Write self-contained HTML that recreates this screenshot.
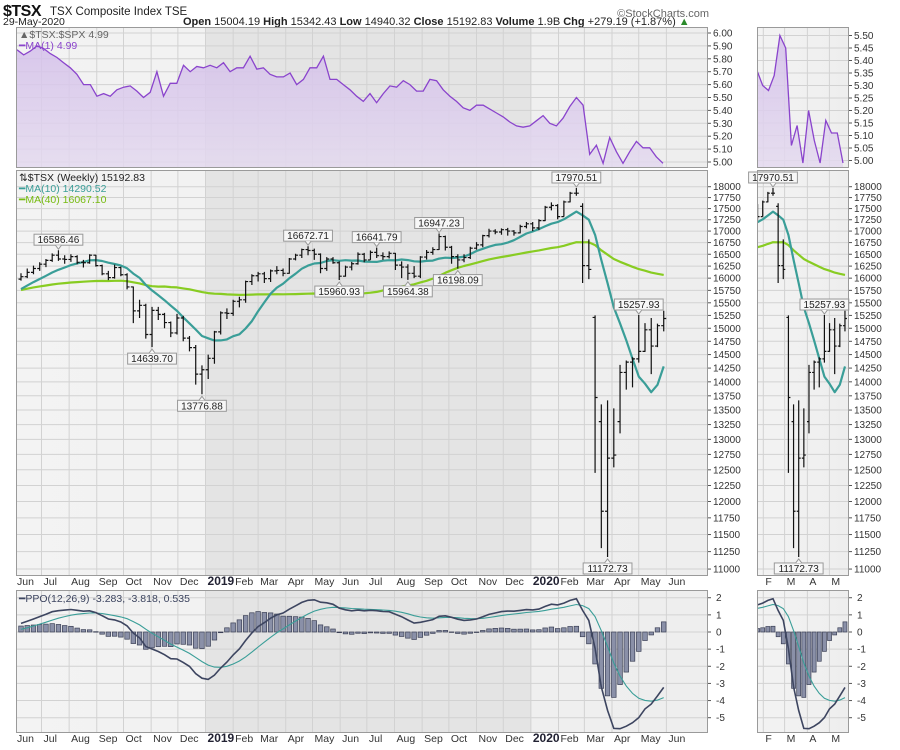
<!DOCTYPE html>
<html><head><meta charset="utf-8"><title>$TSX TSX Composite Index</title>
<style>
html,body{margin:0;padding:0;background:#fff;}
svg{display:block;font-family:"Liberation Sans",sans-serif;}
</style></head>
<body>
<svg id="chart" width="900" height="750" viewBox="0 0 900 750" xmlns="http://www.w3.org/2000/svg">
<rect x="0" y="0" width="900" height="750" fill="#ffffff"/>
<text x="3" y="16" font-size="16" font-weight="bold" fill="#111" style="letter-spacing:-0.5px">$TSX</text>
<text x="50" y="15" font-size="11.5" fill="#222">TSX Composite Index  TSE</text>
<text x="709" y="17" font-size="11" fill="#666" text-anchor="end">©StockCharts.com</text>
<text x="3" y="25" font-size="10.5" fill="#222">29-May-2020</text>
<text x="183" y="25" font-size="11" fill="#222"><tspan font-weight="bold">Open</tspan> 15004.19  <tspan font-weight="bold">High</tspan> 15342.43  <tspan font-weight="bold">Low</tspan> 14940.32  <tspan font-weight="bold">Close</tspan> 15192.83  <tspan font-weight="bold">Volume</tspan> 1.9B  <tspan font-weight="bold">Chg</tspan> +279.19 (+1.87%) <tspan fill="#2a8a2a">▲</tspan></text>
<g id="layers"></g>
</svg>
<script>
// ---------- DATA ----------
const priorCloses = [15050,15150,15450,15630,15700,15770,15840,15960,16010,16030,16110,16040,16020,16050,16100,16000,16200,16220,16350,16320,16240,15610,15030,15330,15500,15600,15400,15220,15370,15240,15400,15500,15650,15700,15800,15850,15900,15950,15980];
const opens = [15980,16030,16120,16200,16290,16370,16480,16400,16390,16450,16330,16320,16480,16260,16090,16010,16220,16070,15820,15340,15450,14880,15350,15270,15110,14910,15200,14810,14630,14140,14220,14430,14930,15300,15290,15530,15560,15930,16050,16090,15990,16150,16160,16100,16400,16480,16600,16580,16500,16200,16400,16320,16040,16230,16300,16500,16380,16540,16470,16450,16520,16270,16230,16100,16040,16440,16540,16600,16880,16650,16450,16380,16430,16630,16700,16900,17000,16980,17030,17000,16960,17100,17160,17070,17230,17530,17570,17320,17650,17850,17550,16260,15210,13300,11850,12690,13300,14170,14360,14420,14560,14970,14660,15050];
const highs = [16100,16200,16260,16330,16400,16520,16586,16480,16500,16480,16380,16500,16490,16280,16150,16280,16240,16100,15830,15560,15480,15420,15420,15300,15130,15280,15240,14850,14680,14300,14500,14950,15330,15390,15560,15620,15950,16080,16130,16130,16180,16250,16200,16420,16510,16620,16672,16620,16520,16440,16440,16350,16260,16340,16540,16530,16580,16641,16540,16560,16530,16350,16290,16250,16460,16590,16650,16947,16900,16680,16500,16500,16660,16760,16920,17050,17040,17060,17070,17020,17140,17200,17200,17260,17560,17640,17600,17680,17880,17970,17620,16820,15250,13600,13670,13530,14310,14390,14450,15258,15100,15200,15090,15342];
const lows = [15950,16000,16080,16150,16230,16340,16360,16300,16340,16290,16220,16300,16240,16060,15960,15990,16040,15770,15100,15200,14800,14640,15160,15000,14830,14880,14750,14560,13950,13777,14050,14330,14880,15180,15240,15410,15500,15860,15930,15900,15920,16080,16040,16090,16370,16420,16480,16380,16100,16150,16300,15961,16030,16160,16280,16330,16380,16420,16380,16410,16170,16000,15964,16000,16000,16390,16490,16590,16580,16300,16198,16330,16400,16600,16650,16860,16930,16920,16900,16900,16950,17060,17000,17020,17220,17460,17260,17320,17640,17790,15900,15980,12450,11300,11172,12540,13100,13860,13900,14350,14550,14140,14640,14940];
const closes = [16030,16120,16200,16290,16370,16480,16400,16390,16450,16330,16320,16480,16260,16090,16010,16220,16070,15820,15340,15450,14880,15350,15270,15110,14910,15200,14810,14630,14140,14220,14430,14930,15300,15290,15530,15560,15930,16050,16090,15990,16150,16160,16100,16400,16480,16600,16580,16500,16200,16400,16320,16040,16230,16300,16500,16380,16540,16470,16450,16520,16270,16230,16100,16040,16440,16540,16600,16880,16650,16450,16380,16430,16630,16700,16900,17000,16980,17030,17000,16960,17100,17160,17070,17230,17530,17570,17320,17650,17850,17850,16260,16180,13720,11850,12690,12740,14170,14360,14420,14560,14970,14660,15050,15190];
const ratioValues = [5.87,5.83,5.86,5.90,5.88,5.84,5.81,5.77,5.73,5.68,5.60,5.60,5.51,5.53,5.51,5.56,5.58,5.59,5.55,5.50,5.54,5.70,5.51,5.61,5.61,5.75,5.70,5.74,5.73,5.75,5.73,5.77,5.70,5.73,5.73,5.82,5.72,5.73,5.68,5.66,5.66,5.69,5.60,5.64,5.73,5.73,5.82,5.64,5.64,5.60,5.56,5.51,5.47,5.53,5.46,5.53,5.59,5.58,5.63,5.60,5.55,5.55,5.64,5.63,5.56,5.51,5.47,5.42,5.40,5.44,5.44,5.41,5.38,5.35,5.31,5.28,5.27,5.28,5.32,5.36,5.30,5.28,5.34,5.43,5.50,5.44,5.06,5.13,4.99,5.19,5.08,4.99,5.08,5.16,5.11,5.11,5.04,4.99];
const miniRatioValues = [5.36,5.30,5.28,5.34,5.50,5.45,5.06,5.14,4.99,5.20,5.08,4.99,5.16,5.11,5.11,4.99];
const monthLabels = ["Jun","Jul","Aug","Sep","Oct","Nov","Dec","2019","Feb","Mar","Apr","May","Jun","Jul","Aug","Sep","Oct","Nov","Dec","2020","Feb","Mar","Apr","May","Jun"];
const monthDays = [-7,23,54,85,115,146,176,207,238,266,297,327,358,388,419,450,480,511,541,572,603,632,663,693,724];
const miniMonthLabels = ["F","M","A","M"];
const miniMonthDays = [603,632,663,693];
const priceTicks = [18000,17750,17500,17250,17000,16750,16500,16250,16000,15750,15500,15250,15000,14750,14500,14250,14000,13750,13500,13250,13000,12750,12500,12250,12000,11750,11500,11250,11000];
const ratioTicks = [6.00,5.90,5.80,5.70,5.60,5.50,5.40,5.30,5.20,5.10,5.00];
const miniRatioTicks = [5.50,5.45,5.40,5.35,5.30,5.25,5.20,5.15,5.10,5.05,5.00];
const ppoTicks = [2,1,0,-1,-2,-3,-4,-5];
const annIdx = [6,21,29,46,51,57,62,67,70,89,99,94];
const annVal = [16586.46,14639.70,13776.88,16672.71,15960.93,16641.79,15964.38,16947.23,16198.09,17970.51,15257.93,11172.73];
const annSide = ["a","b","b","a","b","a","b","a","b","a","a","b"];
const miniAnnIdx = [89,99,94];
const miniAnnVal = [17970.51,15257.93,11172.73];
const miniAnnSide = ["a","a","b"];
const miniStart = 86;

// ---------- GEOMETRY ----------
const NS = 'http://www.w3.org/2000/svg';
const root = document.getElementById('layers');
function mk(tag, attrs, parent){
  const e = document.createElementNS(NS, tag);
  for (const k in attrs) e.setAttribute(k, attrs[k]);
  (parent || root).appendChild(e);
  return e;
}
const L = {x0:16, x1:708}, M = {x0:757, x1:849};
const P1 = {y0:27, y1:168}, P2 = {y0:170, y1:576}, P3 = {y0:590, y1:733};
const xW = i => 21 + 6.24 * i;
const xD = d => 21 + 0.8914 * d;
const xMini = i => 773 + (i - 89) * 5.14;
const xMiniD = d => xMini(d / 7) + 5;
const yPrice = v => 186.7 + 776.4 * Math.log(18000 / v);
const yRatio = v => 33 + (6.0 - v) * 129;
const yMiniRatio = v => 35.5 + (5.5 - v) * 250;
const yPPO = v => 632 - v * 17.14;

const defs = mk('defs', {});
function clip(id, x0, y0, x1, y1){
  const c = mk('clipPath', {id:id}, defs);
  mk('rect', {x:x0, y:y0, width:x1-x0, height:y1-y0}, c);
}
clip('c1', L.x0, P1.y0, L.x1, P1.y1); clip('c2', L.x0, P2.y0, L.x1, P2.y1); clip('c3', L.x0, P3.y0, L.x1, P3.y1);
clip('m1', M.x0, P1.y0, M.x1, P1.y1); clip('m2', M.x0, P2.y0, M.x1, P2.y1); clip('m3', M.x0, P3.y0, M.x1, P3.y1);
const grad = mk('linearGradient', {id:'bgGrad', x1:0, y1:0, x2:1, y2:0}, defs);
mk('stop', {offset:'0', 'stop-color':'#f3f3f3'}, grad);
mk('stop', {offset:'1', 'stop-color':'#eeeeee'}, grad);
const fillGrad = mk('linearGradient', {id:'ratioFill', x1:0, y1:0, x2:0, y2:1}, defs);
mk('stop', {offset:'0', 'stop-color':'#d4c0ea'}, fillGrad);
mk('stop', {offset:'1', 'stop-color':'#e4daef'}, fillGrad);

function panelBg(name, x0, y0, x1, y1, shade){
  const g = mk('g', {});
  
  
  mk('rect', {x:x0, y:y0, width:x1-x0, height:y1-y0, fill:'url(#bgGrad)'}, g);
  if (shade){
    const s = mk('rect', {x:xD(monthDays[7]), y:y0, width:xD(monthDays[19]) - xD(monthDays[7]), height:y1-y0, fill:'#e4e4e4'}, g);
    
    
  }
  return g;
}
panelBg('ratio-panel', L.x0, P1.y0, L.x1, P1.y1, true);
panelBg('price-panel', L.x0, P2.y0, L.x1, P2.y1, true);
panelBg('ppo-panel', L.x0, P3.y0, L.x1, P3.y1, true);
panelBg('mini-ratio-panel', M.x0, P1.y0, M.x1, P1.y1, false);
panelBg('mini-price-panel', M.x0, P2.y0, M.x1, P2.y1, false);
panelBg('mini-ppo-panel', M.x0, P3.y0, M.x1, P3.y1, false);

function hGrid(name, ticks, yf, x0, x1, y0, y1, fmt, lx){
  const g = mk('g', {});
  
  
  ticks.forEach(t => {
    const y = yf(t);
    if (y < y0 - 0.5 || y > y1 + 0.5) return;
    mk('line', {x1:x0, x2:x1, y1:y, y2:y, stroke:'#d2d2d2', 'stroke-width':1}, g);
    mk('line', {x1:x1, x2:x1+3, y1:y, y2:y, stroke:'#555', 'stroke-width':1}, g);
    const tx = mk('text', {x:lx, y:y+3.5, 'font-size':10, fill:'#333'}, g);
    tx.textContent = fmt(t);
  });
}
hGrid('ratio-y-axis', ratioTicks, yRatio, L.x0, L.x1, P1.y0, P1.y1, v => v.toFixed(2), 713);
hGrid('price-y-axis', priceTicks, yPrice, L.x0, L.x1, P2.y0, P2.y1, v => String(v), 713);
hGrid('ppo-y-axis', ppoTicks, yPPO, L.x0, L.x1, P3.y0, P3.y1, v => String(v), 716);
hGrid('mini-ratio-y-axis', miniRatioTicks, yMiniRatio, M.x0, M.x1, P1.y0, P1.y1, v => v.toFixed(2), 854);
hGrid('mini-price-y-axis', priceTicks, yPrice, M.x0, M.x1, P2.y0, P2.y1, v => String(v), 854);
hGrid('mini-ppo-y-axis', ppoTicks, yPPO, M.x0, M.x1, P3.y0, P3.y1, v => String(v), 857);

function vGrid(name, days, labels, xf, x0, x1){
  const g = mk('g', {});
  
  
  days.forEach((d, k) => {
    const x = xf(d);
    if (x > x0 && x < x1){
      [P1, P2, P3].forEach(p => mk('line', {x1:x, x2:x, y1:p.y0, y2:p.y1, stroke:'#d2d2d2', 'stroke-width':1}, g));
    }
    const lxp = Math.max(x + 2, x0 + 1);
    if (lxp > x1 - 8) return;
    const bold = /^\d{4}$/.test(labels[k]);
    [585, 742].forEach(ly => {
      const t = mk('text', {x:lxp, y:ly, 'font-size': bold ? 12 : 10.5, 'font-weight': bold ? 'bold' : 'normal', fill: bold ? '#223' : '#333'}, g);
      t.textContent = labels[k];
    });
  });
}
vGrid('month-axis', monthDays, monthLabels, xD, L.x0, L.x1);
vGrid('mini-month-axis', miniMonthDays, miniMonthLabels, xMiniD, M.x0, M.x1);

// ---------- INDICATORS ----------
const full = priorCloses.concat(closes);
const off = priorCloses.length;
function sma(n, k){ let s = 0; for (let j = k - n + 1; j <= k; j++) s += full[j]; return s / n; }
const ma10 = closes.map((c, i) => sma(10, i + off));
const ma40 = closes.map((c, i) => sma(Math.min(40, i + off + 1), i + off));
function ema(arr, n){ const a = 2 / (n + 1); const out = []; let e = arr[0]; arr.forEach(v => { e = v * a + e * (1 - a); out.push(e); }); return out; }
const e12 = ema(full, 12), e26 = ema(full, 26);
const ppoFull = full.map((v, k) => (e12[k] - e26[k]) / e26[k] * 100);
const sigFull = ema(ppoFull, 9);
const ppo = ppoFull.slice(off), sig = sigFull.slice(off);
const hist = ppo.map((v, i) => v - sig[i]);

// ---------- RATIO PANELS ----------
function ratioArea(name, vals, x0, x1, yf, clipId, yb){
  const g = mk('g', {'clip-path':'url(#' + clipId + ')'});
  
  
  const step = (x1 - x0) / (vals.length - 1);
  const pts = vals.map((v, k) => [x0 + k * step, yf(v)]);
  const d = 'M' + pts.map(p => p[0].toFixed(1) + ',' + p[1].toFixed(1)).join(' L');
  const area = mk('path', {d: d + ' L' + x1 + ',' + yb + ' L' + x0 + ',' + yb + ' Z', fill:'url(#ratioFill)', 'fill-opacity':0.85}, g);
  
  
  const line = mk('path', {d:d, fill:'none', stroke:'#8a44cc', 'stroke-width':1.3}, g);
  
  
}
ratioArea('tsx-spx-ratio', ratioValues, 17, 663, yRatio, 'c1', 168);
ratioArea('mini-tsx-spx-ratio', miniRatioValues, 757, 843, yMiniRatio, 'm1', 168);

// ---------- PRICE PANELS ----------
function lineFrom(name, vals, idxs, xf, yf, color, w, clipId){
  const d = 'M' + idxs.map(i => xf(i).toFixed(1) + ',' + yf(vals[i]).toFixed(1)).join(' L');
  const p = mk('path', {d:d, fill:'none', stroke:color, 'stroke-width':w, 'clip-path':'url(#' + clipId + ')', 'stroke-linejoin':'round'});
  
  
}
const allIdx = closes.map((c, i) => i);
const miniIdx = allIdx.filter(i => i >= miniStart);
lineFrom('ma40-line', ma40, allIdx, xW, yPrice, '#88cc22', 2.2, 'c2');
lineFrom('ma10-line', ma10, allIdx, xW, yPrice, '#3a9e98', 2.2, 'c2');
lineFrom('mini-ma40-line', ma40, miniIdx, xMini, yPrice, '#88cc22', 2.2, 'm2');
lineFrom('mini-ma10-line', ma10, miniIdx, xMini, yPrice, '#3a9e98', 2.2, 'm2');

function bars(name, idxs, xf, clipId, tick){
  const g = mk('g', {'clip-path':'url(#' + clipId + ')', stroke:'#111', 'stroke-width':1.2});
  
  
  idxs.forEach(i => {
    const x = xf(i);
    const b = mk('path', {d:'M' + x + ',' + yPrice(highs[i]) + ' V' + yPrice(lows[i]) +
      ' M' + (x - tick) + ',' + yPrice(opens[i]) + ' H' + x +
      ' M' + x + ',' + yPrice(closes[i]) + ' H' + (x + tick), fill:'none'}, g);
    
    
  });
}
bars('price-bars', allIdx, xW, 'c2', 2.5);
bars('mini-price-bars', miniIdx, xMini, 'm2', 2);

function annotate(name, idxs, vals, sides, xf, y0, y1){
  const g = mk('g', {});
  
  
  idxs.forEach((i, k) => {
    const x = xf(i), yv = yPrice(vals[k]);
    const txt = vals[k].toFixed(2);
    const w = txt.length * 5.6 + 4, h = 11;
    let by = sides[k] === 'a' ? yv - 5 - h : yv + 6;
    by = Math.min(Math.max(by, y0 + 2), y1 - h - 2);
    const bx = x - w / 2;
    const box = mk('g', {}, g);
    
    
    mk('rect', {x:bx, y:by, width:w, height:h, fill:'#f7f7f7', stroke:'#999', 'stroke-width':1}, box);
    if (sides[k] === 'a') mk('path', {d:'M' + (x - 3) + ',' + (by + h) + ' L' + x + ',' + (by + h + 4) + ' L' + (x + 3) + ',' + (by + h), fill:'#f7f7f7', stroke:'#999'}, box);
    else mk('path', {d:'M' + (x - 3) + ',' + by + ' L' + x + ',' + (by - 4) + ' L' + (x + 3) + ',' + by, fill:'#f7f7f7', stroke:'#999'}, box);
    const t = mk('text', {x:x, y:by + 9, 'font-size':10, 'text-anchor':'middle', fill:'#222'}, box);
    t.textContent = txt;
  });
}
annotate('price-annotations', annIdx, annVal, annSide, xW, P2.y0, P2.y1);
annotate('mini-price-annotations', miniAnnIdx, miniAnnVal, miniAnnSide, xMini, P2.y0, P2.y1);

// ---------- PPO PANELS ----------
function ppoDraw(name, idxs, xf, clipId, bw){
  const g = mk('g', {'clip-path':'url(#' + clipId + ')'});
  
  
  const y0 = yPPO(0);
  idxs.forEach(i => {
    const y = yPPO(hist[i]);
    const r = mk('rect', {x:xf(i) - bw / 2, y:Math.min(y, y0), width:bw, height:Math.max(Math.abs(y - y0), 0.5), fill:'#8a90a8', stroke:'#3a3f55', 'stroke-width':0.7}, g);
    
    
  });
  const ds = 'M' + idxs.map(i => xf(i).toFixed(1) + ',' + yPPO(sig[i]).toFixed(1)).join(' L');
  const s = mk('path', {d:ds, fill:'none', stroke:'#3a9e98', 'stroke-width':1.1}, g);
  
  
  const dp = 'M' + idxs.map(i => xf(i).toFixed(1) + ',' + yPPO(ppo[i]).toFixed(1)).join(' L');
  const p = mk('path', {d:dp, fill:'none', stroke:'#3d4560', 'stroke-width':1.6}, g);
  
  
}
ppoDraw('ppo-indicator', allIdx, xW, 'c3', 4.6);
ppoDraw('mini-ppo-indicator', miniIdx, xMini, 'm3', 4);

// ---------- BORDERS ----------
[[L.x0, P1], [L.x0, P2], [L.x0, P3], [M.x0, P1], [M.x0, P2], [M.x0, P3]].forEach(([x0, p]) => {
  const x1 = x0 === L.x0 ? L.x1 : M.x1;
  const b = mk('rect', {x:x0 + 0.5, y:p.y0 + 0.5, width:x1 - x0 - 1, height:p.y1 - p.y0 - 1, fill:'none', stroke:'#9a9a9a', 'stroke-width':1});
  
  
});
</script>
<script>
(function(){
  const NS = 'http://www.w3.org/2000/svg';
  const svg = document.getElementById('chart');
  function t(x, y, s, color, name){
    const e = document.createElementNS(NS, 'text');
    e.setAttribute('x', x); e.setAttribute('y', y);
    e.setAttribute('font-size', '10.5'); e.setAttribute('fill', color);
    
    
    e.textContent = s; svg.appendChild(e);
  }
  t(19, 38, '▲$TSX:$SPX 4.99', '#666', 'ratio-legend');
  t(19, 49, '━MA(1) 4.99', '#8a44cc', 'ma1-legend');
  t(19, 181, '⇅$TSX (Weekly) 15192.83', '#222', 'price-legend');
  t(19, 192, '━MA(10) 14290.52', '#3a9e98', 'ma10-legend');
  t(19, 203, '━MA(40) 16067.10', '#77bb11', 'ma40-legend');
  t(19, 602, '━PPO(12,26,9) -3.283, -3.818, 0.535', '#3d4560', 'ppo-legend');
})();
</script>
</body></html>
